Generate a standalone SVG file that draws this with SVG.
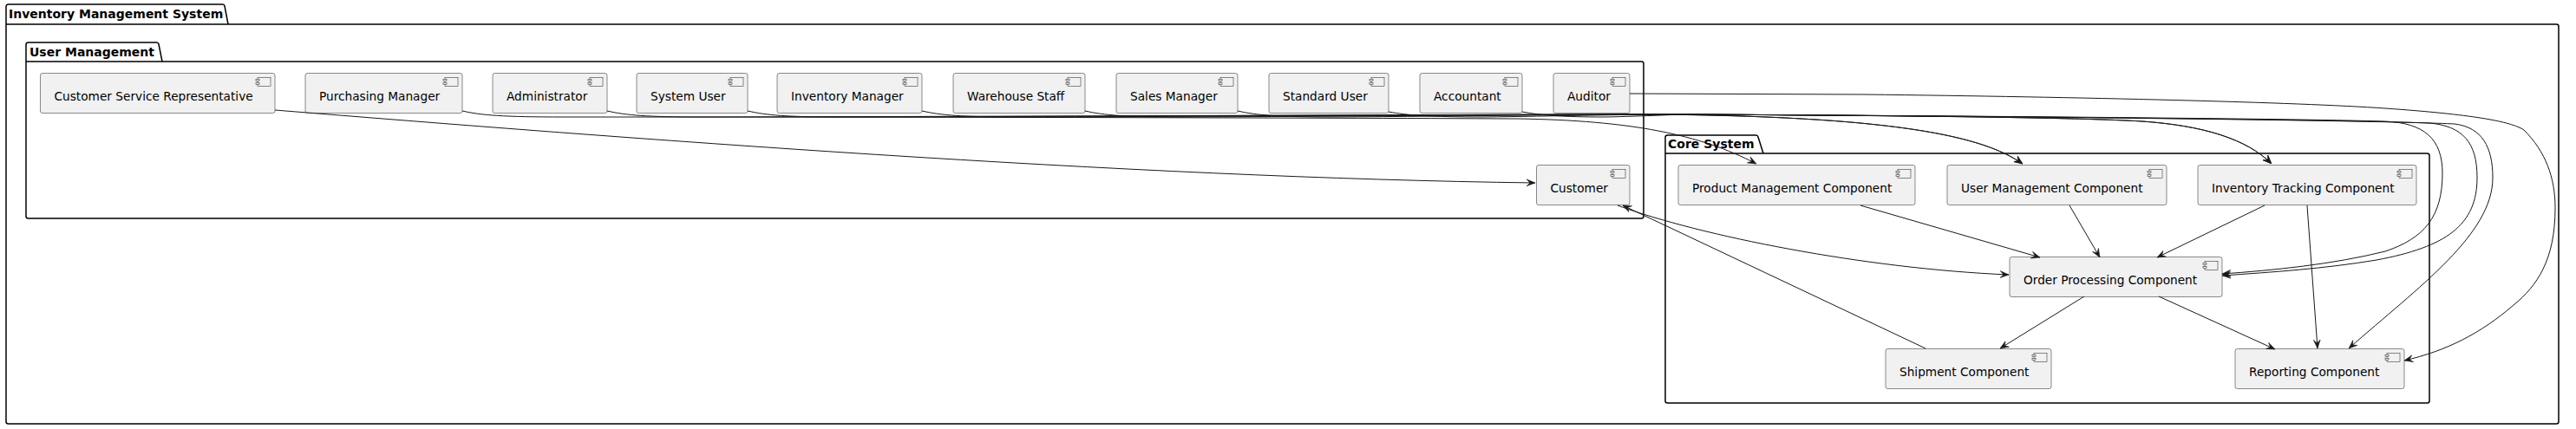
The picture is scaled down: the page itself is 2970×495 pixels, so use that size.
<svg xmlns="http://www.w3.org/2000/svg" xmlns:xlink="http://www.w3.org/1999/xlink" width="2970" height="495" viewBox="0 0 2970 495">
<style>
.pkg{fill:none;stroke:#000;stroke-width:1.5}
.pkgt{font-family:"DejaVu Sans",sans-serif;font-size:14px;font-weight:bold;fill:#000}
.box{fill:#F1F1F1;stroke:#181818;stroke-width:0.5}
.lbl{font-family:"DejaVu Sans",sans-serif;font-size:13.7px;fill:#000}
.edge{fill:none;stroke:#181818;stroke-width:1;marker-end:url(#arr)}
</style>
<defs>
<marker id="arr" viewBox="0 0 10 10" refX="10" refY="5" markerWidth="10" markerHeight="10" markerUnits="userSpaceOnUse" orient="auto">
<path d="M0,1 L10,5 L0,9 L4,5 Z" fill="#181818" stroke="#181818" stroke-width="0.5"/>
</marker>
<g id="ic">
<rect x="0" y="0" width="15" height="10" class="box"/>
<rect x="-2" y="2" width="4" height="2" class="box"/>
<rect x="-2" y="6" width="4" height="2" class="box"/>
</g>
</defs>
<rect width="2970" height="495" fill="#fff"/>

<g id="pkg-ims">
<path class="pkg" d="M7,7.5 A2.5,2.5 0 0 1 9.5,5 L256.5,5 A2.5,2.5 0 0 1 259,7 L263,28 L2947.5,28 A2.5,2.5 0 0 1 2950,30.5 L2950,486.5 A2.5,2.5 0 0 1 2947.5,489 L9.5,489 A2.5,2.5 0 0 1 7,486.5 Z M7,28 L263,28"/>
<text class="pkgt" x="10" y="21">Inventory Management System</text>
</g>
<g id="pkg-um">
<path class="pkg" d="M30,51.5 A2.5,2.5 0 0 1 32.5,49 L180.5,49 A2.5,2.5 0 0 1 183,51 L187,71 L1892.5,71 A2.5,2.5 0 0 1 1895,73.5 L1895,249.5 A2.5,2.5 0 0 1 1892.5,252 L32.5,252 A2.5,2.5 0 0 1 30,249.5 Z M30,71 L187,71"/>
<text class="pkgt" x="34" y="65">User Management</text>
</g>
<g id="pkg-core">
<path class="pkg" d="M1920,158.5 A2.5,2.5 0 0 1 1922.5,156 L2024.5,156 A2.5,2.5 0 0 1 2027,158 L2033,177 L2798.5,177 A2.5,2.5 0 0 1 2801,179.5 L2801,462.5 A2.5,2.5 0 0 1 2798.5,465 L1922.5,465 A2.5,2.5 0 0 1 1920,462.5 Z M1920,177 L2033,177"/>
<text class="pkgt" x="1923" y="171">Core System</text>
</g>

<g id="n-csr"><rect class="box" x="46.5" y="84.5" width="270.5" height="46" rx="2.5"/><use xlink:href="#ic" x="297" y="89.5"/><text class="lbl" x="62.5" y="116">Customer Service Representative</text></g>
<g id="n-pm"><rect class="box" x="352" y="84.5" width="181" height="46" rx="2.5"/><use xlink:href="#ic" x="513" y="89.5"/><text class="lbl" x="368" y="116">Purchasing Manager</text></g>
<g id="n-admin"><rect class="box" x="568" y="84.5" width="132" height="46" rx="2.5"/><use xlink:href="#ic" x="680" y="89.5"/><text class="lbl" x="584" y="116">Administrator</text></g>
<g id="n-sysuser"><rect class="box" x="734" y="84.5" width="128" height="46" rx="2.5"/><use xlink:href="#ic" x="842" y="89.5"/><text class="lbl" x="750" y="116">System User</text></g>
<g id="n-invmgr"><rect class="box" x="896" y="84.5" width="167" height="46" rx="2.5"/><use xlink:href="#ic" x="1043" y="89.5"/><text class="lbl" x="912" y="116">Inventory Manager</text></g>
<g id="n-whstaff"><rect class="box" x="1099" y="84.5" width="152" height="46" rx="2.5"/><use xlink:href="#ic" x="1231" y="89.5"/><text class="lbl" x="1115" y="116">Warehouse Staff</text></g>
<g id="n-salesmgr"><rect class="box" x="1287" y="84.5" width="140" height="46" rx="2.5"/><use xlink:href="#ic" x="1407" y="89.5"/><text class="lbl" x="1303" y="116">Sales Manager</text></g>
<g id="n-stduser"><rect class="box" x="1463" y="84.5" width="138" height="46" rx="2.5"/><use xlink:href="#ic" x="1581" y="89.5"/><text class="lbl" x="1479" y="116">Standard User</text></g>
<g id="n-accountant"><rect class="box" x="1637" y="84.5" width="118" height="46" rx="2.5"/><use xlink:href="#ic" x="1735" y="89.5"/><text class="lbl" x="1653" y="116">Accountant</text></g>
<g id="n-auditor"><rect class="box" x="1791" y="84.5" width="88" height="46" rx="2.5"/><use xlink:href="#ic" x="1859" y="89.5"/><text class="lbl" x="1807" y="116">Auditor</text></g>
<g id="n-customer"><rect class="box" x="1771.5" y="190.5" width="107.5" height="46" rx="2.5"/><use xlink:href="#ic" x="1859" y="195.5"/><text class="lbl" x="1787.5" y="222">Customer</text></g>

<g id="n-pmc"><rect class="box" x="1935" y="190.5" width="273" height="46" rx="2.5"/><use xlink:href="#ic" x="2188" y="195.5"/><text class="lbl" x="1951" y="222">Product Management Component</text></g>
<g id="n-umc"><rect class="box" x="2245" y="190.5" width="253" height="46" rx="2.5"/><use xlink:href="#ic" x="2478" y="195.5"/><text class="lbl" x="2261" y="222">User Management Component</text></g>
<g id="n-itc"><rect class="box" x="2534" y="190.5" width="252" height="46" rx="2.5"/><use xlink:href="#ic" x="2766" y="195.5"/><text class="lbl" x="2550" y="222">Inventory Tracking Component</text></g>
<g id="n-opc"><rect class="box" x="2317" y="296.5" width="245" height="46" rx="2.5"/><use xlink:href="#ic" x="2542" y="301.5"/><text class="lbl" x="2333" y="328">Order Processing Component</text></g>
<g id="n-shc"><rect class="box" x="2174" y="402.5" width="191" height="46" rx="2.5"/><use xlink:href="#ic" x="2345" y="407.5"/><text class="lbl" x="2190" y="434">Shipment Component</text></g>
<g id="n-rpc"><rect class="box" x="2577" y="402.5" width="195" height="46" rx="2.5"/><use xlink:href="#ic" x="2752" y="407.5"/><text class="lbl" x="2593" y="434">Reporting Component</text></g>

<g id="connectors">
<path class="edge" d="M317,127 C700,158 1300,205 1770,211"/>
<path class="edge" d="M533,128 C555,133 580,135 650,135 C1100,135 1500,136 1750,137 C1880,139 1960,155 2025,189"/>
<path class="edge" d="M700,128 C722,133 745,135 810,135 C1300,134 1700,132 1900,132 C2200,134 2290,160 2332,189"/>
<path class="edge" d="M862,128 C884,133 907,135 970,135 C1400,134 1700,132 1900,132 C2200,134 2290,160 2332,189"/>
<path class="edge" d="M1063,128 C1085,133 1110,135 1170,135 C1500,134 1750,132 1950,132 C2300,134 2420,137 2470,140 C2540,145 2590,160 2619,189"/>
<path class="edge" d="M1251,128 C1273,133 1298,135 1360,135 C1600,134 1750,132 1950,132 C2300,134 2420,137 2470,140 C2540,145 2590,160 2619,189"/>
<path class="edge" d="M1427,128 C1449,133 1474,135 1536,135 C1700,134 1800,132 1950,132 C2300,134 2650,137 2750,140 C2795,142 2816,160 2816,200 C2816,250 2795,275 2750,290 C2690,305 2620,312 2562,316"/>
<path class="edge" d="M1601,129 C1623,133 1648,135 1710,135 C1800,134 1850,132 1950,132 C2300,134 2700,138 2800,142 C2840,145 2856,165 2856,205 C2856,260 2820,285 2740,300 C2680,310 2620,314 2562,318"/>
<path class="edge" d="M1755,129 C1777,133 1800,135 1850,135 C1900,134 1930,132 1950,132 C2300,134 2750,139 2830,143 C2862,147 2874,170 2874,205 C2874,270 2790,330 2708,402"/>
<path class="edge" d="M1879,108 L2150,109 C2400,112 2650,118 2750,125 C2850,132 2895,140 2910,150 C2935,175 2946,205 2946,240 C2946,300 2925,330 2898,352 C2860,385 2820,405 2772,416"/>
<path class="edge" d="M1865,237 C1960,272 2150,310 2316,317"/>
<path class="edge" d="M2220,402 L1871,237"/>
<path class="edge" d="M2145,237 L2352,297"/>
<path class="edge" d="M2386,237 L2421,297"/>
<path class="edge" d="M2611,237 L2487,297"/>
<path class="edge" d="M2660,237 L2672,402"/>
<path class="edge" d="M2403,342 L2306,402"/>
<path class="edge" d="M2489,342 L2623,403"/>
</g>
</svg>
